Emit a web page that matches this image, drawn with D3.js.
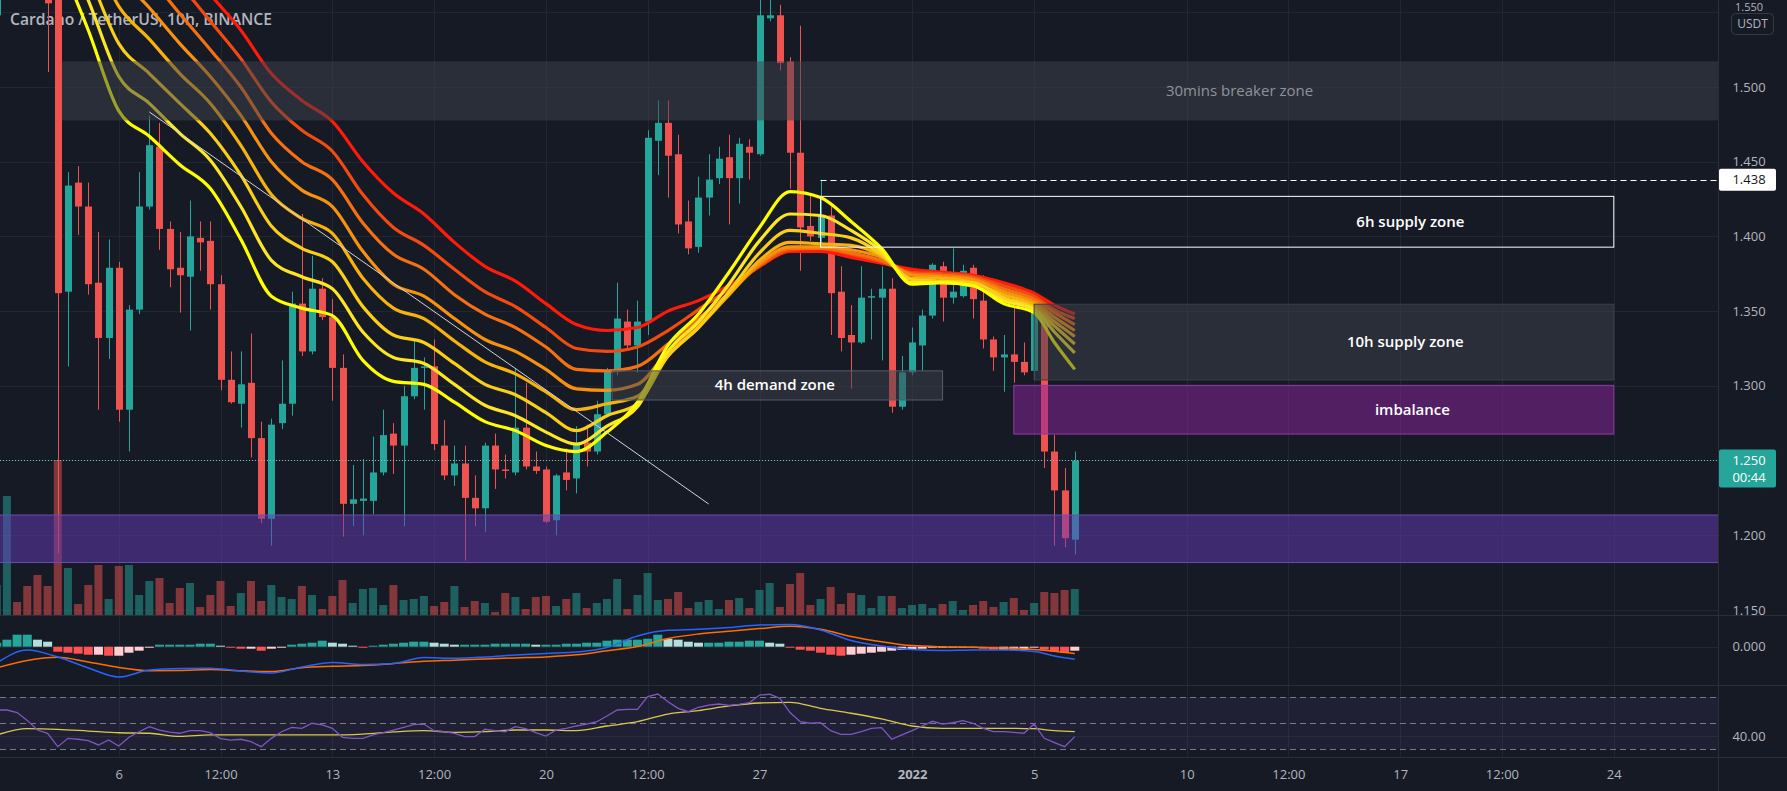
<!DOCTYPE html>
<html><head><meta charset="utf-8">
<script src="https://cdn.jsdelivr.net/npm/d3@7"></script>
<style>
html,body{margin:0;padding:0;background:#161a25;overflow:hidden;}
svg{display:block;}
text{font-family:"Open Sans","Noto Sans",sans-serif;}
</style></head><body>
<svg id="c" width="1787" height="791"></svg>
<script>
// ---------------- DATA ----------------
const barIndex = d3.range(-12, 95); // 10h bars, 0 = 6 Dec 00:00
const opens = [1.548,1.620,1.660,1.630,1.600,1.585,1.562,1.363,1.436,1.420,1.369,1.332,
1.379,1.284,1.351,1.420,1.460,1.405,1.379,1.373,1.399,1.397,
1.368,1.304,1.288,1.302,1.265,1.211,1.275,1.288,1.355,1.323,
1.365,1.346,1.312,1.221,1.223,1.223,1.242,1.268,1.260,1.293,
1.312,1.313,1.260,1.240,1.248,1.225,1.218,1.260,1.244,1.242,
1.272,1.246,1.244,1.210,1.242,1.238,1.262,1.256,1.281,1.310,
1.343,1.327,1.343,1.464,1.476,1.455,1.410,1.393,1.426,1.439,
1.453,1.439,1.460,1.455,1.546,1.548,1.517,1.456,1.407,1.399,
1.414,1.363,1.334,1.329,1.359,1.359,1.365,1.286,1.309,1.327,
1.347,1.380,1.359,1.360,1.379,1.357,1.331,1.319,1.321,1.316,
1.310,1.350,1.256,1.230,1.197];
const highs = [1.640,1.700,1.680,1.650,1.620,1.595,1.570,1.443,1.447,1.436,1.403,1.398,
1.383,1.354,1.443,1.481,1.476,1.410,1.403,1.424,1.410,1.410,
1.374,1.323,1.323,1.335,1.276,1.278,1.317,1.363,1.415,1.387,
1.372,1.358,1.321,1.247,1.251,1.266,1.284,1.275,1.300,1.331,
1.319,1.331,1.277,1.260,1.260,1.240,1.262,1.268,1.254,1.312,
1.302,1.256,1.246,1.241,1.258,1.273,1.274,1.290,1.312,1.369,
1.351,1.357,1.471,1.491,1.491,1.468,1.424,1.440,1.455,1.460,
1.468,1.466,1.465,1.565,1.575,1.555,1.520,1.541,1.429,1.438,
1.420,1.380,1.354,1.380,1.365,1.380,1.372,1.320,1.339,1.351,
1.382,1.383,1.392,1.381,1.381,1.374,1.333,1.334,1.352,1.329,
1.354,1.352,1.267,1.245,1.256];
const lows = [1.540,1.600,1.610,1.580,1.565,1.510,1.188,1.313,1.401,1.361,1.284,1.318,
1.276,1.256,1.348,1.418,1.391,1.366,1.349,1.337,1.377,1.351,
1.297,1.288,1.272,1.252,1.208,1.193,1.271,1.280,1.320,1.321,
1.344,1.290,1.199,1.206,1.200,1.214,1.240,1.241,1.206,1.291,
1.284,1.257,1.237,1.233,1.183,1.206,1.202,1.231,1.238,1.240,
1.244,1.241,1.208,1.200,1.230,1.228,1.246,1.254,1.279,1.307,
1.325,1.309,1.334,1.441,1.426,1.402,1.388,1.389,1.414,1.435,
1.408,1.422,1.438,1.454,1.544,1.511,1.432,1.377,1.397,1.393,
1.334,1.323,1.298,1.328,1.331,1.317,1.282,1.284,1.307,1.310,
1.345,1.343,1.355,1.359,1.345,1.325,1.310,1.296,1.302,1.307,
1.304,1.245,1.193,1.192,1.187];
const closes = [1.620,1.660,1.630,1.600,1.585,1.556,1.362,1.434,1.420,1.368,1.332,1.379,
1.284,1.351,1.420,1.461,1.405,1.378,1.374,1.400,1.396,1.368,
1.304,1.289,1.301,1.265,1.211,1.274,1.288,1.355,1.323,1.365,
1.346,1.312,1.221,1.224,1.2245,1.242,1.267,1.260,1.293,1.312,
1.313,1.261,1.240,1.248,1.225,1.218,1.260,1.244,1.243,1.272,
1.246,1.243,1.209,1.240,1.237,1.261,1.256,1.281,1.310,1.345,
1.327,1.343,1.466,1.476,1.454,1.408,1.392,1.426,1.438,1.452,
1.439,1.462,1.456,1.548,1.548,1.516,1.456,1.406,1.400,1.414,
1.362,1.332,1.329,1.359,1.360,1.365,1.286,1.309,1.329,1.347,
1.381,1.359,1.363,1.377,1.358,1.331,1.319,1.321,1.316,1.309,
1.351,1.256,1.230,1.198,1.250];
const volumes = [12,47.6,5.2,11.6,16,11.6,62,18.8,4.4,12,20,6.4,
19.6,20,8,13.6,14.8,4.8,10.8,12.8,3.2,8,
13.6,3.6,8.8,13.6,5.6,12,7.2,6.4,11.6,8,
2.4,7.6,14,4.8,10.4,10.8,4,12,6,6.4,
7.6,3.6,5.2,11.6,3.2,5.6,4.8,1.2,8.8,7.2,
2.4,7.2,7.6,3.6,6.4,8.8,2.8,4.8,6.4,14.4,
2.4,8,16.8,6,6.4,9.2,2.8,5.2,6,2.4,
6,6.8,2.8,10,12.8,3.2,12.4,16.8,4,6.4,
11.2,4.4,8.8,8,2.8,7.6,7.6,2.8,4,4.4,
2.8,4.4,5.6,2,4,5.6,3.2,5.2,6.8,2,
4.8,9.2,8.8,10,10.4];

// EMA ribbon (8 EMAs, fast -> slow), read at sampled bars
const emaIdx = [-12,-9,-6,-3,0,3,6,9,12,15,18,21,24,27,30,33,36,39,42,45,48,51,54,57,60,63,66,69,72,75,78,81,84,87,90,92,94];
const ema1 = [1.692,1.639,1.588,1.538,1.484,1.467,1.448,1.432,1.398,1.360,1.352,1.347,1.317,1.303,1.301,1.289,1.276,1.270,1.260,1.256,1.269,1.289,1.327,1.348,1.376,1.406,1.430,1.426,1.410,1.392,1.368,1.369,1.367,1.355,1.349,1.329,1.311];
const ema2 = [1.701,1.651,1.604,1.558,1.507,1.489,1.469,1.451,1.420,1.384,1.373,1.365,1.336,1.319,1.315,1.301,1.287,1.280,1.269,1.261,1.273,1.286,1.323,1.343,1.368,1.397,1.415,1.414,1.404,1.390,1.369,1.369,1.367,1.357,1.351,1.336,1.322];
const ema3 = [1.709,1.663,1.619,1.576,1.529,1.509,1.489,1.469,1.441,1.407,1.392,1.383,1.353,1.334,1.329,1.315,1.301,1.294,1.282,1.270,1.280,1.288,1.320,1.339,1.363,1.389,1.404,1.402,1.399,1.388,1.371,1.370,1.369,1.359,1.352,1.340,1.328];
const ema4 = [1.717,1.675,1.635,1.596,1.554,1.532,1.509,1.489,1.461,1.428,1.412,1.402,1.372,1.352,1.345,1.330,1.316,1.308,1.296,1.284,1.288,1.293,1.320,1.339,1.361,1.384,1.396,1.395,1.394,1.387,1.372,1.372,1.369,1.361,1.354,1.343,1.333];
const ema5 = [1.725,1.687,1.651,1.614,1.576,1.553,1.529,1.507,1.481,1.450,1.431,1.420,1.390,1.368,1.360,1.345,1.331,1.323,1.311,1.298,1.297,1.301,1.323,1.341,1.361,1.382,1.393,1.393,1.391,1.386,1.374,1.373,1.371,1.363,1.356,1.346,1.337];
const ema6 = [1.733,1.699,1.665,1.632,1.598,1.574,1.549,1.525,1.500,1.469,1.450,1.438,1.409,1.388,1.378,1.361,1.348,1.339,1.326,1.311,1.310,1.313,1.328,1.345,1.362,1.381,1.392,1.392,1.389,1.384,1.375,1.374,1.372,1.365,1.358,1.349,1.341];
const ema7 = [1.741,1.711,1.681,1.651,1.620,1.594,1.569,1.544,1.519,1.490,1.471,1.457,1.428,1.406,1.394,1.378,1.363,1.353,1.339,1.325,1.323,1.326,1.337,1.351,1.365,1.380,1.391,1.392,1.388,1.383,1.376,1.375,1.373,1.367,1.360,1.351,1.345];
const ema8 = [1.749,1.722,1.695,1.669,1.642,1.615,1.588,1.562,1.538,1.509,1.491,1.477,1.450,1.429,1.415,1.396,1.380,1.370,1.355,1.341,1.337,1.339,1.350,1.357,1.367,1.380,1.390,1.390,1.386,1.382,1.378,1.376,1.374,1.369,1.362,1.354,1.348];
const emaColors = ["#ffff00","#fde725","#f9cf1a","#f8b20e","#f79210","#f47012","#f24a10","#ff1a0a"];

// MACD
const macdHist = [0.004,0.007,0.012,0.012,0.007,0.005,-0.005,-0.006,-0.007,-0.008,-0.008,-0.009,
-0.009,-0.006,-0.004,-0.001,0.002,0.002,0.002,0.002,0.003,0.003,
0.001,-0.001,-0.002,-0.002,-0.004,-0.002,-0.001,0.002,0.003,0.004,
0.006,0.004,0.003,0.001,-0.001,0.001,0.002,0.003,0.004,0.005,
0.005,0.004,0.003,0.002,0.002,0.002,0.002,0.003,0.003,0.003,
0.003,0.002,0.002,0.002,0.003,0.003,0.004,0.004,0.006,0.007,
0.007,0.007,0.008,0.012,0.008,0.007,0.005,0.004,0.004,0.004,
0.005,0.005,0.006,0.006,0.004,0.003,-0.001,-0.003,-0.004,-0.006,
-0.008,-0.009,-0.008,-0.007,-0.006,-0.005,-0.004,-0.003,-0.003,-0.002,
-0.001,-0.001,-0.001,-0.001,-0.001,-0.002,-0.003,-0.003,-0.003,-0.003,
-0.001,-0.003,-0.005,-0.006,-0.004];
const macdLine = [-0.0163,-0.0033,-0.0103,-0.0213,-0.0303,-0.0233,-0.0218,-0.0216,-0.0243,-0.0263,-0.0203,-0.0158,-0.0178,-0.0168,-0.0108,-0.0116,-0.0103,-0.0083,-0.0067,-0.0053,-0.0008,0.0107,0.0164,0.0174,0.0192,0.0217,0.0222,0.0167,0.0062,0.0007,-0.0028,-0.0038,-0.0033,-0.0033,-0.0048,-0.0093,-0.0126];
const signalLine = [-0.0213,-0.0138,-0.0106,-0.0153,-0.0207,-0.0240,-0.0238,-0.0228,-0.0240,-0.0248,-0.0210,-0.0196,-0.0188,-0.0169,-0.0146,-0.0135,-0.0123,-0.0112,-0.0102,-0.0081,-0.0040,0.0001,0.0082,0.0127,0.0155,0.0181,0.0205,0.0175,0.0103,0.0050,0.0011,-0.0001,-0.0005,-0.0013,-0.0028,-0.0046,-0.0069];

// RSI
const rsiValues = [60,60,58,52,44.6,42,31.8,38.2,37.5,36.4,33.1,36.9,
32.3,39,43.3,47.2,44.6,43,42.1,44.1,44.1,42.6,
38,36.9,37.5,35.6,31.8,38.2,43.3,46.7,45.9,49.8,
48.5,45.9,39,38.2,38.2,40.8,42.6,44.6,46.7,48.7,
49.2,44.1,43.3,42.1,39.5,39.5,45.2,44.1,43.3,47.2,
45.6,42.6,40,44.6,45.9,47.7,49.2,51,55.4,60,
60.5,60.5,70.3,72.3,66.4,61.3,58.7,62.1,63.8,64.6,
63.6,64.4,65.6,71.5,72.1,69,58,51,49.8,50.2,
44.1,41.3,41.3,43.3,45.9,46.4,37.5,40.8,44.1,47.7,
51.3,49.2,50.2,51.8,49.8,45.9,43.3,43.3,42.8,42.1,
49.2,38.2,34.9,31.8,39.5];
const rsiMa = [40.8,45.6,45.1,43.8,42.5,42.1,39.7,40.8,40.8,40.8,40.8,40.8,41.5,43.1,44.1,42.8,43.3,44.6,44.6,44.1,47.7,51,56.9,59.5,63.1,65.4,65.9,61.3,57.5,53.1,47.7,45.9,45.9,45.9,45.6,44.1,43.3];
const rsiLevels = [70, 50, 30];

// Axis ticks
const timeTickIdx = [0,10,21,31,42,52,63,78,90,105,115,126,136,147];
const timeTickLabels = ["6","12:00","13","12:00","20","12:00","27","2022","5","10","12:00","17","12:00","24"];
const priceTicks = [1.15,1.20,1.25,1.30,1.35,1.40,1.45,1.50,1.55];

// Drawn zones (bar-index extents, price extents)
const zoneNames  = ["30mins breaker zone","","4h demand zone","10h supply zone","imbalance","6h supply zone"];
const zoneStart  = [-5.6,-14,48.5,90,88,69];
const zoneEnd    = [230,230,81,147,147,147];
const zoneTop    = [1.5172,1.2135,1.3100,1.3546,1.3003,1.4268];
const zoneBottom = [1.4776,1.1817,1.2905,1.3039,1.2677,1.3928];
const zoneLabelIdx = [110.2,0,64.5,126.5,127.2,127];
const trendIdx = [3, 58];
const trendPrice = [1.4833, 1.2209];
const markPrice = 1.438, markStartIdx = 69;
const lastPrice = 1.250, countdown = "00:44";

// ---------------- CHART ----------------
const W = 1787, H = 791, PR = 1718;
const UP = "#26a69a", DN = "#ef5350";
const svg = d3.select("#c");
const x  = d3.scaleLinear().domain([0,147]).range([118.8,1613.8]);
const yP = d3.scaleLinear().domain([1.15,1.5]).range([609.9,87]);
const yV = d3.scaleLinear().domain([0,62]).range([615,460]);
const yM = d3.scaleLinear().domain([-0.03,0.03]).range([676.7,616.7]);
const yR = d3.scaleLinear().domain([30,70]).range([749,697]);

svg.append("rect").attr("width",W).attr("height",H).attr("fill","#161a25");
const defs = svg.append("defs");
[["cm",0,0,PR,615],["cd",0,615,PR,70],["cr",0,685,PR,72]].forEach(([id,a,b,w,h])=>
  defs.append("clipPath").attr("id",id).append("rect").attr("x",a).attr("y",b).attr("width",w).attr("height",h));

// grid
const grid = svg.append("g").attr("stroke","#222631").attr("stroke-width",1);
grid.selectAll("line.v").data(timeTickIdx).join("line")
  .attr("x1",d=>Math.round(x(d))+0.5).attr("x2",d=>Math.round(x(d))+0.5).attr("y1",0).attr("y2",757);
grid.selectAll("line.h").data(priceTicks).join("line")
  .attr("x1",0).attr("x2",PR).attr("y1",d=>Math.round(yP(d))+0.5).attr("y2",d=>Math.round(yP(d))+0.5);
grid.append("line").attr("x1",0).attr("x2",PR).attr("y1",Math.round(yM(0))+0.5).attr("y2",Math.round(yM(0))+0.5);
grid.append("line").attr("x1",0).attr("x2",PR).attr("y1",Math.round(yR(40))+0.5).attr("y2",Math.round(yR(40))+0.5);

// title
svg.append("text").attr("x",10).attr("y",21).attr("dominant-baseline","middle")
  .attr("fill","#b2b5be").style("font-size","15.7px").style("font-weight","600")
  .text("Cardano / TetherUS, 10h, BINANCE");

const bars = barIndex.map((i,k)=>({i,o:opens[k],h:highs[k],l:lows[k],c:closes[k],v:volumes[k]}));
const isUp = d => d.c >= d.o;
const main = svg.append("g").attr("clip-path","url(#cm)");

// volume
main.selectAll("rect.vol").data(bars).join("rect")
  .attr("x",d=>x(d.i)-4).attr("width",8)
  .attr("y",d=>yV(d.v)).attr("height",d=>yV(0)-yV(d.v))
  .attr("fill",d=>isUp(d)?"rgba(38,166,154,0.5)":"rgba(239,83,80,0.5)");

// candles
main.selectAll("line.wick").data(bars).join("line")
  .attr("x1",d=>Math.round(x(d.i))+0.5).attr("x2",d=>Math.round(x(d.i))+0.5)
  .attr("y1",d=>yP(d.h)).attr("y2",d=>yP(d.l))
  .attr("stroke",d=>isUp(d)?UP:DN).attr("stroke-width",1);
main.selectAll("rect.body").data(bars).join("rect")
  .attr("x",d=>Math.round(x(d.i))-3).attr("width",7)
  .attr("y",d=>yP(Math.max(d.o,d.c)))
  .attr("height",d=>Math.max(1.5,Math.abs(yP(d.o)-yP(d.c))))
  .attr("fill",d=>isUp(d)?UP:DN);

// EMA ribbon
const emas = [ema1,ema2,ema3,ema4,ema5,ema6,ema7,ema8];
const lineGen = d3.line().x(d=>x(d[0])).y(d=>yP(d[1])).curve(d3.curveMonotoneX);
for (let k=7;k>=0;k--){
  main.append("path").datum(emaIdx.map((i,j)=>[i,emas[k][j]]))
    .attr("d",lineGen).attr("fill","none").attr("stroke",emaColors[k])
    .attr("stroke-width",3.2).attr("stroke-linejoin","round");
}

// zones
const zfill = ["rgba(62,66,78,0.5)","rgba(102,58,183,0.5)","rgba(62,66,78,0.5)","rgba(62,66,78,0.5)","rgba(142,36,161,0.5)","none"];
const zstroke = ["none","#6a4fb0","#585c68","#3c404b","#8e3aa6","#ffffff"];
zoneNames.forEach((n,k)=>{
  main.append("rect")
    .attr("x",x(zoneStart[k])).attr("width",x(zoneEnd[k])-x(zoneStart[k]))
    .attr("y",yP(zoneTop[k])).attr("height",yP(zoneBottom[k])-yP(zoneTop[k]))
    .attr("fill",zfill[k]).attr("stroke",zstroke[k]).attr("stroke-width",1);
});

// trend line
main.append("line").attr("x1",x(trendIdx[0])).attr("y1",yP(trendPrice[0]))
  .attr("x2",x(trendIdx[1])).attr("y2",yP(trendPrice[1]))
  .attr("stroke","#d1d4dc").attr("stroke-width",1);

// dashed 1.438 line
svg.append("line").attr("x1",x(markStartIdx)).attr("x2",PR)
  .attr("y1",Math.round(yP(markPrice))+0.5).attr("y2",Math.round(yP(markPrice))+0.5)
  .attr("stroke","#ffffff").attr("stroke-dasharray","6 4").attr("stroke-width",1);

// last price dotted line
svg.append("line").attr("x1",0).attr("x2",PR)
  .attr("y1",Math.round(yP(lastPrice))+0.5).attr("y2",Math.round(yP(lastPrice))+0.5)
  .attr("stroke","#7fbdb6").attr("stroke-dasharray","1 2").attr("stroke-width",1);

// zone labels
const lblFill = ["#8f929b","#fff","#ffffff","#ffffff","#ffffff","#ffffff"];
zoneNames.forEach((n,k)=>{
  if(!n) return;
  svg.append("text").attr("x",x(zoneLabelIdx[k])).attr("y",yP((zoneTop[k]+zoneBottom[k])/2)+1)
    .attr("text-anchor","middle").attr("dominant-baseline","middle")
    .attr("fill",lblFill[k]).style("font-size","15px").style("font-weight",k===0?"500":"600")
    .text(n);
});

// MACD pane
const macdG = svg.append("g").attr("clip-path","url(#cd)");
const histColor = (v,k) => {
  const p = k>0 ? macdHist[k-1] : v;
  if (v>=0) return v>=p ? "#26a69a" : "#b2dfdb";
  return v<p ? "#ff5252" : "#ffcdd2";
};
macdG.selectAll("rect.h").data(barIndex).join("rect")
  .attr("x",i=>x(i)-4.5).attr("width",9)
  .attr("y",(i,k)=>Math.min(yM(0),yM(macdHist[k])))
  .attr("height",(i,k)=>Math.max(1,Math.abs(yM(macdHist[k])-yM(0))))
  .attr("fill",(i,k)=>histColor(macdHist[k],k));
const mline = d3.line().x(d=>x(d[0])).y(d=>yM(d[1])).curve(d3.curveMonotoneX);
macdG.append("path").datum(emaIdx.map((i,j)=>[i,signalLine[j]])).attr("d",mline)
  .attr("fill","none").attr("stroke","#ff6d00").attr("stroke-width",1.5);
macdG.append("path").datum(emaIdx.map((i,j)=>[i,macdLine[j]])).attr("d",mline)
  .attr("fill","none").attr("stroke","#2962ff").attr("stroke-width",1.5);

// RSI pane
const rsiG = svg.append("g").attr("clip-path","url(#cr)");
rsiG.append("rect").attr("x",0).attr("width",PR).attr("y",yR(70)).attr("height",yR(30)-yR(70))
  .attr("fill","rgba(126,87,194,0.1)");
rsiG.selectAll("line.lv").data(rsiLevels).join("line")
  .attr("x1",0).attr("x2",PR).attr("y1",d=>Math.round(yR(d))+0.5).attr("y2",d=>Math.round(yR(d))+0.5)
  .attr("stroke","#787b86").attr("stroke-dasharray","6 4").attr("stroke-width",1);
rsiG.append("path").datum(emaIdx.map((i,j)=>[i,rsiMa[j]]))
  .attr("d",d3.line().x(d=>x(d[0])).y(d=>yR(d[1])).curve(d3.curveMonotoneX))
  .attr("fill","none").attr("stroke","#d8c94a").attr("stroke-width",1.3);
rsiG.append("path").datum(barIndex.map((i,k)=>[i,rsiValues[k]]))
  .attr("d",d3.line().x(d=>x(d[0])).y(d=>yR(d[1])))
  .attr("fill","none").attr("stroke","#7e57c2").attr("stroke-width",1.3);

// pane separators
const sep = svg.append("g").attr("stroke","#2a2e39").attr("stroke-width",1);
[615,685,757].forEach(y=>sep.append("line").attr("x1",0).attr("x2",W).attr("y1",y+0.5).attr("y2",y+0.5));
sep.append("line").attr("x1",PR+0.5).attr("x2",PR+0.5).attr("y1",0).attr("y2",H);

// price axis
const pa = svg.append("g").attr("transform","translate(1749,0)")
  .call(d3.axisRight(yP).tickValues(priceTicks).tickFormat(d3.format(".3f")).tickSize(0).tickPadding(0));
pa.select(".domain").remove();
pa.selectAll("text").attr("x",0).attr("text-anchor","middle").attr("fill","#b2b5be")
  .style("font-size","13px").style("font-family","'Open Sans',sans-serif");
// top tick label squeezed into the strip above the currency box
pa.selectAll("text").filter(d=>d===1.55).attr("y",-5.5).style("font-size","11px");

// MACD / RSI axis
const ma = svg.append("g").attr("transform","translate(1749,0)")
  .call(d3.axisRight(yM).tickValues([0]).tickFormat(d3.format(".3f")).tickSize(0).tickPadding(0));
ma.select(".domain").remove();
ma.selectAll("text").attr("x",0).attr("text-anchor","middle").attr("fill","#b2b5be").style("font-size","13px").style("font-family","'Open Sans',sans-serif");
const ra = svg.append("g").attr("transform","translate(1749,0)")
  .call(d3.axisRight(yR).tickValues([40]).tickFormat(d3.format(".2f")).tickSize(0).tickPadding(0));
ra.select(".domain").remove();
ra.selectAll("text").attr("x",0).attr("text-anchor","middle").attr("fill","#b2b5be").style("font-size","13px").style("font-family","'Open Sans',sans-serif");

// time axis
const ta = svg.append("g").attr("transform","translate(0,774)")
  .call(d3.axisBottom(x).tickValues(timeTickIdx).tickFormat((d,k)=>timeTickLabels[k]).tickSize(0).tickPadding(0));
ta.select(".domain").remove();
ta.selectAll("text").attr("y",0).attr("dy","0.35em").attr("fill","#b2b5be")
  .style("font-size","13px").style("font-family","'Open Sans',sans-serif")
  .style("font-weight",(d,k)=>timeTickLabels[k]==="2022"?"700":"400");

// USDT box
svg.append("rect").attr("x",1731.5).attr("y",13.5).attr("width",42).attr("height",21).attr("rx",4)
  .attr("fill","#161a25").attr("stroke","#363a45");
svg.append("text").attr("x",1752.5).attr("y",24.5).attr("text-anchor","middle").attr("dominant-baseline","middle")
  .attr("fill","#b2b5be").style("font-size","12px").text("USDT");

// 1.438 label
svg.append("rect").attr("x",PR+1).attr("y",yP(markPrice)-11).attr("width",57).attr("height",22).attr("rx",2).attr("fill","#ffffff");
svg.append("text").attr("x",1749).attr("y",yP(markPrice)+1).attr("text-anchor","middle").attr("dominant-baseline","middle")
  .attr("fill","#131722").style("font-size","13px").text(d3.format(".3f")(markPrice));

// last price label
svg.append("rect").attr("x",PR+1).attr("y",yP(lastPrice)-11).attr("width",57).attr("height",38).attr("rx",2).attr("fill",UP);
svg.append("text").attr("x",1749).attr("y",yP(lastPrice)+1).attr("text-anchor","middle").attr("dominant-baseline","middle")
  .attr("fill","#ffffff").style("font-size","13px").text(d3.format(".3f")(lastPrice));
svg.append("text").attr("x",1749).attr("y",yP(lastPrice)+18).attr("text-anchor","middle").attr("dominant-baseline","middle")
  .attr("fill","#ffffff").style("font-size","13px").text(countdown);
</script>
</body></html>
